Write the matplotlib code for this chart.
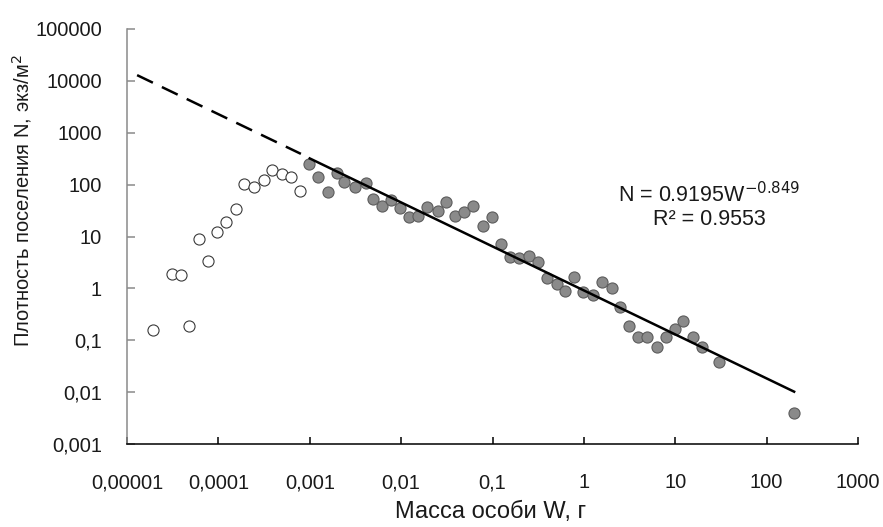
import matplotlib
matplotlib.use("Agg")
import matplotlib.pyplot as plt
import numpy as np

plt.rcParams["font.family"] = ["Liberation Sans", "DejaVu Sans"]

# ── Data ────────────────────────────────────────────────────────────────────

# open circles: small individuals, not used in the fit
open_w = [1.92e-5, 4.76e-5, 3.1e-5, 3.9e-5, 6.14e-5, 7.7e-5, 9.66e-5, 1.21e-4,
          1.56e-4, 1.91e-4, 2.45e-4, 3.16e-4, 3.86e-4, 4.96e-4, 6.22e-4, 7.81e-4]
open_n = [0.157, 0.188, 1.89, 1.80, 8.9, 3.36, 12.2, 18.9,
          33.7, 102, 89.5, 122, 190, 159, 139, 75]

# filled circles: points used in the fit
fill_w = [9.8e-4, 1.23e-3, 1.58e-3, 1.99e-3, 2.37e-3, 3.13e-3, 4.12e-3, 4.91e-3,
          6.16e-3, 7.73e-3, 9.7e-3, 1.22e-2, 1.53e-2, 1.91e-2, 2.53e-2, 3.09e-2,
          3.88e-2, 4.87e-2, 6.1e-2, 7.85e-2, 9.8e-2, 0.124, 0.155, 0.195,
          0.250, 0.314, 0.394, 0.507, 0.620, 0.778, 0.975, 1.25,
          1.57, 2.02, 2.48, 3.11, 3.90, 4.89, 6.29, 7.89,
          9.9, 12.1, 15.6, 19.5, 30, 198]
fill_n = [248, 139, 72, 167, 112, 89.5, 107, 52.6,
          38.5, 50, 35.2, 23.7, 24.7, 36.8, 30.8, 46,
          24.7, 29.5, 38.5, 15.9, 23.7, 7.14, 4.0, 3.84,
          4.19, 3.21, 1.58, 1.21, 0.887, 1.65, 0.85, 0.74,
          1.32, 1.01, 0.437, 0.188, 0.115, 0.115, 0.074, 0.115,
          0.164, 0.234, 0.115, 0.074, 0.038, 0.004]

# trend line end points (solid = fitted range, dashed = extrapolation)
fit_w = [1e-3, 200]
fit_n = [320, 0.0102]
ext_w = [1.29e-5, 8e-4]
ext_n = [12900, 392]

xticks = [1e-5, 1e-4, 1e-3, 1e-2, 1e-1, 1, 10, 100, 1000]
xlabels = ["0,00001", "0,0001", "0,001", "0,01", "0,1", "1", "10", "100", "1000"]
yticks = [1e-3, 1e-2, 1e-1, 1, 10, 100, 1000, 10000, 100000]
ylabels = ["0,001", "0,01", "0,1", "1", "10", "100", "1000", "10000", "100000"]

# ── Figure ──────────────────────────────────────────────────────────────────

fig = plt.figure(figsize=(8.83, 5.27), dpi=100)
ax = fig.add_axes([127 / 883, 83 / 527, 731 / 883, 415 / 527])

ax.scatter(open_w, open_n, s=64, facecolor="white", edgecolor="#3a3a3a",
           linewidth=0.8, zorder=3)
ax.scatter(fill_w, fill_n, s=64, facecolor="#8a8a8a", edgecolor="#5c5c5c",
           linewidth=0.8, zorder=3)

ax.plot(fit_w, fit_n, color="black", lw=1.8, zorder=4)
ax.plot(ext_w, ext_n, color="black", lw=1.8, dashes=(7, 4), zorder=4)

ax.set_xscale("log")
ax.set_yscale("log")
ax.set_xlim(1e-5, 1000)
ax.set_ylim(1e-3, 1e5)

ax.set_xticks(xticks)
ax.set_xticklabels(xlabels)
ax.set_yticks(yticks)
ax.set_yticklabels(ylabels)
ax.minorticks_off()

for side in ("top", "right"):
    ax.spines[side].set_visible(False)
ax.spines["left"].set_color("#8a8a8a")
ax.spines["left"].set_linewidth(1.1)
ax.spines["bottom"].set_color("black")
ax.spines["bottom"].set_linewidth(1.1)

ax.tick_params(axis="x", direction="in", length=5, width=1.1, color="black",
               pad=21, labelsize=14.5, labelcolor="#1a1a1a")
ax.tick_params(axis="y", direction="in", length=6, width=1.1, color="#8a8a8a",
               pad=18, labelsize=14.5, labelcolor="#1a1a1a")

ax.text(0.796, 0.602, r"N = 0.9195W$^{-0.849}$", transform=ax.transAxes,
        ha="center", va="center", fontsize=15.5, color="#1a1a1a")
ax.text(0.796, 0.542, "R² = 0.9553", transform=ax.transAxes,
        ha="center", va="center", fontsize=15.5, color="#1a1a1a")

fig.text(22 / 883, 1 - 201 / 527, "Плотность поселения N, экз/м$^2$",
         rotation=90, ha="center", va="center", fontsize=14.5, color="#1a1a1a")
fig.text(491 / 883, 1 - 512 / 527, "Масса особи W, г",
         ha="center", va="center", fontsize=17, color="#1a1a1a")

fig.savefig("out.png", dpi=100)
